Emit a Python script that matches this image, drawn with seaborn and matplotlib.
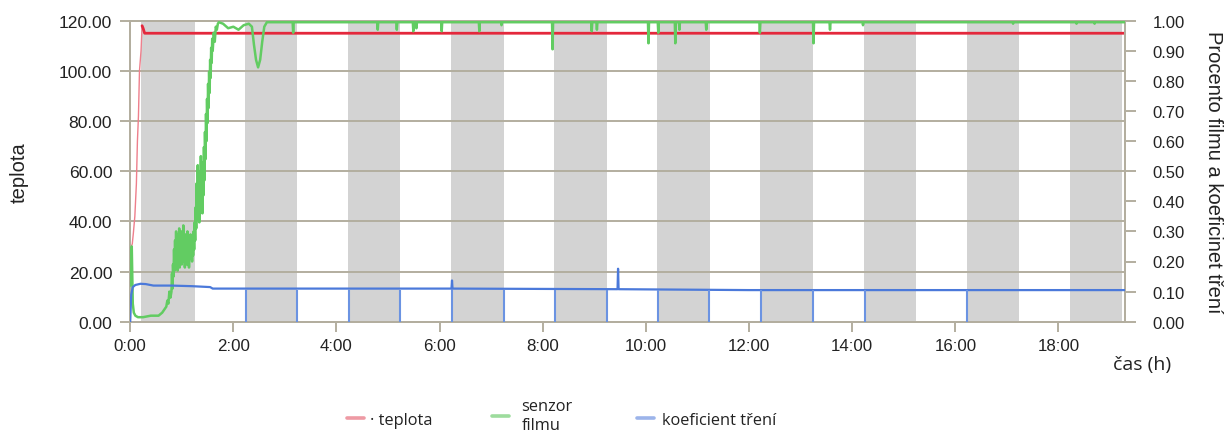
import matplotlib
matplotlib.use("Agg")
import matplotlib.pyplot as plt
from matplotlib.lines import Line2D
from matplotlib.ticker import FixedLocator, FixedFormatter, FormatStrFormatter
import seaborn as sns

# ---- data (time in hours) ----
# temperature, left axis
temp_t = [0.00, 0.02, 0.04, 0.06, 0.09, 0.12, 0.14, 0.16, 0.18, 0.21, 0.23, 0.25, 0.28, 0.32, 19.29]
temp_v = [22.0, 30.0, 31.0, 35.0, 42.0, 55.0, 72.0, 82.0, 100.0, 108.0, 118.0, 117.0, 115.0, 115.0, 115.0]
temp_settled_from = 10  # index where the heater reaches its set point

# film sensor, right axis (fraction)
film_t = [0.00, 0.02, 0.03, 0.04, 0.05, 0.07, 0.10, 0.15, 0.25, 0.40, 0.55, 0.62, 0.66,
          0.70, 0.72, 0.74, 0.76, 0.78,
          0.80, 0.81, 0.82, 0.83, 0.84, 0.85, 0.86, 0.87, 0.88, 0.89,
          0.90, 0.91, 0.92, 0.93, 0.94, 0.95, 0.96, 0.97, 0.98, 0.99,
          1.00, 1.01, 1.02, 1.03, 1.04, 1.05, 1.06, 1.07, 1.08, 1.09,
          1.10, 1.11, 1.12, 1.13, 1.14, 1.15, 1.16, 1.17, 1.18, 1.19,
          1.20, 1.21, 1.22, 1.23, 1.24, 1.25, 1.26, 1.27, 1.28, 1.29,
          1.30, 1.31, 1.32, 1.33, 1.34, 1.35, 1.36, 1.37, 1.38, 1.39,
          1.40, 1.41, 1.42, 1.43, 1.44, 1.45, 1.46, 1.47, 1.48, 1.49,
          1.50, 1.51, 1.52, 1.53, 1.54, 1.55, 1.56, 1.57, 1.58, 1.59,
          1.60, 1.62, 1.64, 1.66, 1.68, 1.70, 1.72,
          1.80, 1.90, 2.00, 2.10, 2.20, 2.30, 2.36, 2.40, 2.44, 2.48, 2.52, 2.56, 2.60, 2.65,
          3.15, 3.16, 3.17, 4.79, 4.80, 4.81, 5.16, 5.17, 5.18, 5.48, 5.49, 5.50, 5.54, 5.55, 5.56,
          6.03, 6.04, 6.05, 6.76, 6.77, 6.78, 7.19, 7.20, 7.21, 8.18, 8.19, 8.20, 8.94, 8.95, 8.96,
          9.04, 9.05, 9.06, 10.04, 10.05, 10.06, 10.23, 10.24, 10.25, 10.56, 10.57, 10.58,
          10.64, 10.65, 10.66, 11.16, 11.17, 11.18, 12.20, 12.21, 12.22, 13.24, 13.25, 13.26,
          13.56, 13.57, 13.58, 14.20, 14.21, 14.22, 17.11, 17.12, 17.13, 18.34, 18.35, 18.36,
          18.69, 18.70, 18.71, 19.29]
film_v = [0.12, 0.20, 0.25, 0.15, 0.06, 0.03, 0.02, 0.015, 0.015, 0.02, 0.02, 0.03, 0.04,
          0.05, 0.07, 0.06, 0.10, 0.08,
          0.10, 0.16, 0.11, 0.19, 0.15, 0.24, 0.17, 0.27, 0.18, 0.30,
          0.19, 0.26, 0.17, 0.29, 0.20, 0.31, 0.18, 0.27, 0.21, 0.30,
          0.19, 0.28, 0.22, 0.32, 0.20, 0.27, 0.18, 0.29, 0.21, 0.26,
          0.19, 0.30, 0.22, 0.28, 0.18, 0.27, 0.21, 0.29, 0.23, 0.26,
          0.20, 0.28, 0.22, 0.30, 0.24, 0.33, 0.27, 0.38, 0.31, 0.46,
          0.34, 0.52, 0.37, 0.45, 0.33, 0.50, 0.38, 0.55, 0.41, 0.48,
          0.36, 0.53, 0.42, 0.58, 0.47, 0.63, 0.54, 0.69, 0.60, 0.74,
          0.66, 0.79, 0.71, 0.83, 0.76, 0.87, 0.81, 0.91, 0.86, 0.94,
          0.90, 0.96, 0.93, 0.98, 0.97, 0.99, 0.995,
          0.99, 0.975, 0.98, 0.97, 0.985, 0.99, 0.98, 0.92, 0.87, 0.845, 0.87, 0.93, 0.98, 0.995,
          0.995, 0.96, 0.995, 0.995, 0.97, 0.995, 0.995, 0.97, 0.995, 0.995, 0.965, 0.995, 0.995, 0.975, 0.995,
          0.995, 0.965, 0.995, 0.995, 0.965, 0.995, 0.995, 0.985, 0.995, 0.995, 0.905, 0.995, 0.995, 0.965, 0.995,
          0.995, 0.97, 0.995, 0.995, 0.925, 0.995, 0.995, 0.96, 0.995, 0.995, 0.925, 0.995,
          0.995, 0.97, 0.995, 0.995, 0.97, 0.995, 0.995, 0.96, 0.995, 0.995, 0.925, 0.995,
          0.995, 0.97, 0.995, 0.995, 0.985, 0.995, 0.995, 0.99, 0.995, 0.995, 0.99, 0.995,
          0.995, 0.99, 0.995, 0.995]

# friction coefficient, right axis
fric_t = [0.00, 0.02, 0.05, 0.10, 0.20, 0.30, 0.45, 0.80, 1.20, 1.55, 1.60,
          6.23, 6.24, 6.25, 9.45, 9.46, 9.47, 12.0, 19.29]
fric_v = [0.00, 0.09, 0.115, 0.122, 0.126, 0.125, 0.12, 0.12, 0.118, 0.115, 0.11,
          0.11, 0.137, 0.11, 0.108, 0.176, 0.108, 0.105, 0.105]
# moments where the friction signal drops to zero
fric_drop_t = [2.24, 3.24, 4.24, 5.24, 6.24, 7.24, 8.24, 9.24, 10.23, 11.23, 12.23,
               13.24, 14.24, 16.22]
fric_drop_level = 0.105

# shaded periods
band_start = [0.21, 2.23, 4.23, 6.22, 8.22, 10.22, 12.22, 14.22, 16.22, 18.22]
band_end = [1.25, 3.24, 5.24, 7.24, 9.24, 11.24, 13.24, 15.24, 17.24, 19.24]

x_ticks = [0, 2, 4, 6, 8, 10, 12, 14, 16, 18]
x_labels = ["0:00", "2:00", "4:00", "6:00", "8:00", "10:00", "12:00", "14:00", "16:00", "18:00"]
left_ticks = [0, 20, 40, 60, 80, 100, 120]
right_ticks = [0.0, 0.1, 0.2, 0.3, 0.4, 0.5, 0.6, 0.7, 0.8, 0.9, 1.0]

# ---- style ----
sns.set_theme(style="white")
plt.rcParams["font.family"] = ["Liberation Sans", "DejaVu Sans"]

RED = "#e4283c"
GREEN = "#62cc62"
BLUE = "#4b79da"
AXC = "#b3ae9f"
TXT = "#222222"
W, H = 1227, 435
AX_W = 1125 - 130.2

fig = plt.figure(figsize=(W / 100, H / 100), dpi=100)
ax = fig.add_axes([130.2 / W, (H - 322.7) / H, AX_W / W, 301 / H])
ax2 = ax.twinx()

for s, e in zip(band_start, band_end):
    ax.axvspan(s, e, color="#d3d3d3", lw=0, zorder=0.5)

ax.set_xlim(0, 19.29)
ax.set_ylim(0, 120)
ax2.set_ylim(0, 1.0)

ax.yaxis.set_major_locator(FixedLocator(left_ticks))
ax.yaxis.set_major_formatter(FormatStrFormatter("%.2f"))
ax.xaxis.set_major_locator(FixedLocator(x_ticks))
ax.xaxis.set_major_formatter(FixedFormatter(x_labels))
ax2.yaxis.set_major_locator(FixedLocator(right_ticks))
ax2.yaxis.set_major_formatter(FormatStrFormatter("%.2f"))

ax.grid(axis="y", color=AXC, lw=1.4)
ax.grid(axis="x", visible=False)
ax2.grid(False)
ax.set_axisbelow("line")

# warm-up segment drawn thin, settled temperature drawn bold
k = temp_settled_from
sns.lineplot(x=temp_t[:k + 1], y=temp_v[:k + 1], ax=ax, color="#ee7f8c", lw=1.0,
             estimator=None, sort=False, zorder=3)
sns.lineplot(x=temp_t[k:], y=temp_v[k:], ax=ax, color=RED, lw=2.0,
             estimator=None, sort=False, zorder=3)
sns.lineplot(x=film_t, y=film_v, ax=ax2, color=GREEN, lw=1.8, estimator=None, sort=False, zorder=3)
sns.lineplot(x=fric_t, y=fric_v, ax=ax2, color=BLUE, lw=1.6, estimator=None, sort=False, zorder=4)
ax2.vlines(fric_drop_t, 0, fric_drop_level, color="#6b93e2", lw=1.5, zorder=4)

for a in (ax, ax2):
    for sp in a.spines.values():
        sp.set_color(AXC)
        sp.set_linewidth(1.4)

ax.tick_params(axis="y", which="major", left=True, length=7, width=1.4, color=AXC,
               pad=6, labelsize=12.6, labelcolor=TXT)
ax.tick_params(axis="x", which="major", bottom=True, length=7, width=1.4, color=AXC,
               pad=5, labelsize=12.2, labelcolor=TXT)
ax2.tick_params(axis="y", which="major", right=True, length=8, width=1.4, color=AXC,
                pad=12, labelsize=12.0, labelcolor=TXT)

ax.set_ylabel("teplota", fontsize=14.5, color=TXT)
ax.yaxis.set_label_coords(-(130.2 - 29) / AX_W, 0.5)
ax2.set_ylabel("Procento filmu a koeficinet tření", fontsize=14.5, color=TXT,
               rotation=270, labelpad=27)

fig.text(1113 / W, 1 - 365 / H, "čas (h)", fontsize=14, color=TXT,
         family=["Open Sans", "DejaVu Sans"], va="center", ha="left")

# legend entries placed individually along the bottom
leg_font = {"family": ["Open Sans", "DejaVu Sans"], "size": 11.8}
entries = [
    ("· teplota", "#ee9aa4", 347 / W, 421, 0.35),
    ("senzor\nfilmu", "#9ddc9d", 492 / W, 417, 0.75),
    ("koeficient tření", "#9cb4ea", 637 / W, 421, 0.5),
]
for label, col, xpos, ypos, pad in entries:
    lg = fig.legend([Line2D([], [], color=col, lw=2.6)], [label], loc="center left",
                    bbox_to_anchor=(xpos, 1 - ypos / H), frameon=False, prop=leg_font,
                    handlelength=1.05, handletextpad=pad, borderpad=0, borderaxespad=0)
    for t in lg.get_texts():
        t.set_color(TXT)
        t.set_linespacing(1.25)

fig.savefig("out.png", dpi=100)
